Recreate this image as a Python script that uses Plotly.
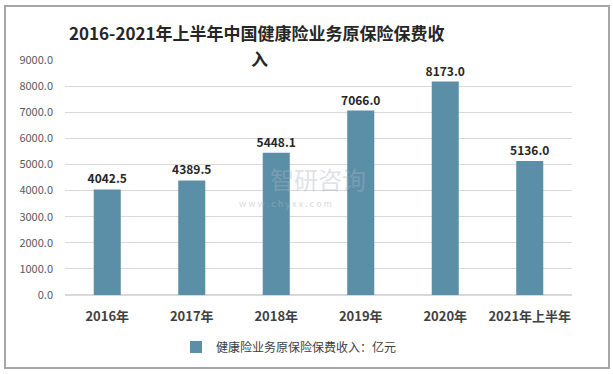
import plotly.graph_objects as go

categories = ["2016年", "2017年", "2018年", "2019年", "2020年", "2021年上半年"]
values = [4042.5, 4389.5, 5448.1, 7066.0, 8173.0, 5136.0]
series_name = "健康险业务原保险保费收入：亿元"
title_line1 = "2016-2021年上半年中国健康险业务原保险保费收"
title_line2 = "入"

W, H = 613, 374
L, R, T, B = 65, 41, 60, 79
pw, ph = W - L - R, H - T - B

def px(x):
    return (x - L) / pw

def py(y):
    return (H - B - y) / ph

font = "Noto Sans CJK SC"
color = "#5B8FA8"

fig = go.Figure()
fig.add_trace(go.Bar(
    x=categories, y=values, name=series_name,
    marker=dict(color=color, line=dict(width=0)),
    width=0.32,
    text=[f"{v:.1f}" for v in values], textposition="outside",
    constraintext="none",
    textfont=dict(family=font, size=12, color="#262626", weight="bold"),
    cliponaxis=False,
))

fig.update_layout(
    width=W, height=H,
    margin=dict(l=L, r=R, t=T, b=B, autoexpand=False),
    paper_bgcolor="white", plot_bgcolor="white",
    showlegend=True,
    legend=dict(orientation="h", x=px(289), xanchor="center", y=py(347), yanchor="middle",
                font=dict(family=font, size=12, color="#404040"), itemwidth=30),
    xaxis=dict(showgrid=False, showline=False, ticks="", ticklabelstandoff=12,
               tickfont=dict(family=font, size=13, color="#404040", weight="bold")),
    yaxis=dict(range=[0, 9000], dtick=1000, tickformat=".1f", showgrid=True,
               gridcolor="#D9D9D9", gridwidth=1, zeroline=True, zerolinecolor="#D9D9D9",
               tickfont=dict(family=font, size=11, color="#595959"), ticklabelstandoff=11),
    font=dict(family=font),
    bargap=0.68,
)

fig.add_annotation(text=title_line1, xref="paper", yref="paper", x=px(257), y=py(33),
                   xanchor="center", yanchor="middle", showarrow=False,
                   font=dict(family=font, size=17, color="#262626", weight="bold"))
fig.add_annotation(text=title_line2, xref="paper", yref="paper", x=px(259), y=py(58),
                   xanchor="center", yanchor="middle", showarrow=False,
                   font=dict(family=font, size=17, color="#262626", weight="bold"))

# watermark
fig.add_annotation(text="智研咨询", xref="paper", yref="paper", x=px(268), y=py(178),
                   xanchor="left", yanchor="middle", showarrow=False,
                   font=dict(family=font, size=24, color="rgba(170,178,190,0.4)"))
fig.add_annotation(text="w w w . c h y x x . c o m", xref="paper", yref="paper", x=px(237), y=py(203),
                   xanchor="left", yanchor="middle", showarrow=False,
                   font=dict(family=font, size=9, color="rgba(170,178,190,0.5)"))

# outer border
fig.add_shape(type="rect", xref="paper", yref="paper",
              x0=px(5), x1=px(609), y0=py(368), y1=py(6),
              line=dict(color="#A6A6A6", width=2), layer="below")

fig.write_html("out.html", config={"displayModeBar": False},
               post_script="document.body.style.margin='0';")
